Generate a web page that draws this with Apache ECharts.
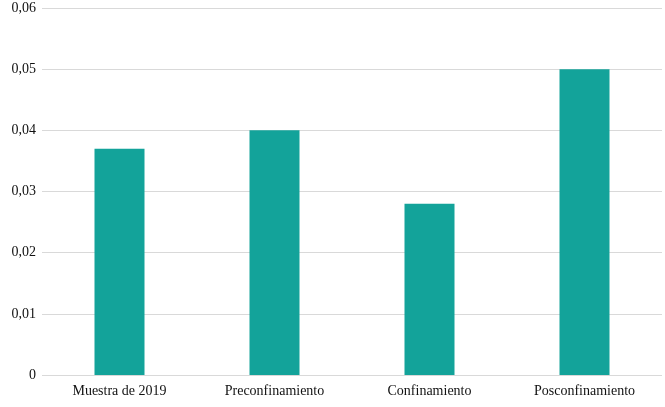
<!DOCTYPE html>
<html>
<head>
<meta charset="utf-8">
<title>chart</title>
<script src="https://cdn.jsdelivr.net/npm/echarts@6/dist/echarts.min.js"></script>
<style>html,body{margin:0;padding:0;background:#fff}#main{width:665px;height:407px}</style>
</head>
<body>
<div id="main"></div>
<script>
const categories = ['Muestra de 2019', 'Preconfinamiento', 'Confinamiento', 'Posconfinamiento'];
const values = [0.037, 0.04, 0.028, 0.05];

const chart = echarts.init(document.getElementById('main'));
chart.setOption({
  animation: false,
  textStyle: {fontFamily: 'Liberation Serif'},
  grid: {left: 42, right: 3, top: 8, bottom: 32},
  xAxis: {
    type: 'category',
    data: categories,
    axisLine: {show: false},
    axisTick: {show: false},
    axisLabel: {color: '#111', fontSize: 14, margin: 9, fontFamily: 'Liberation Serif'}
  },
  yAxis: {
    type: 'value',
    min: 0, max: 0.06, interval: 0.01,
    axisLabel: {
      color: '#111', fontSize: 14, margin: 6, fontFamily: 'Liberation Serif',
      formatter: v => v === 0 ? '0' : v.toFixed(2).replace('.', ',')
    },
    splitLine: {lineStyle: {color: '#d9d9d9', width: 1}}
  },
  series: [{
    type: 'bar',
    data: values,
    barWidth: 50,
    itemStyle: {color: '#13a39a'}
  }]
});
</script>
</body>
</html>
